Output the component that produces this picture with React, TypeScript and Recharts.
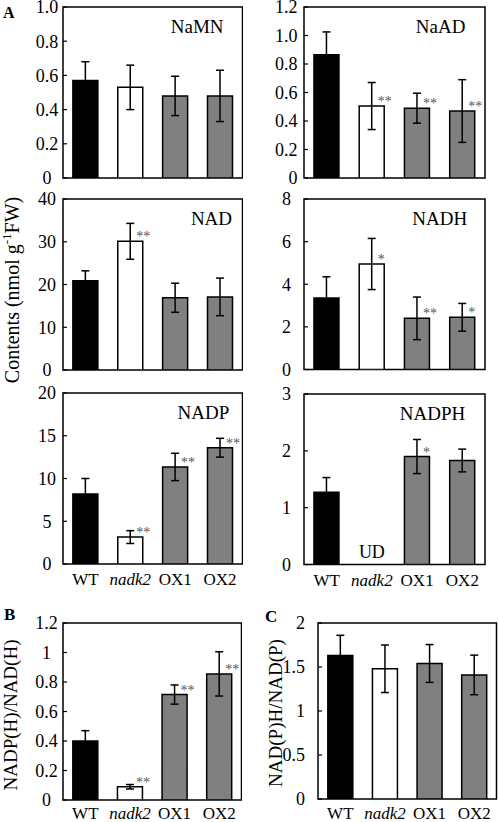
import React from 'react';
import { BarChart, Bar, XAxis, YAxis, ErrorBar, Cell, LabelList, ReferenceArea, ReferenceDot } from 'recharts';

const FONT = '"Liberation Serif", "Times New Roman", Times, serif';

const categories = ['WT', 'nadk2', 'OX1', 'OX2'];
const barColors = ['#000000', '#ffffff', '#808080', '#808080'];

const namnValues = [0.57, 0.53, 0.48, 0.48];
const namnErrors = [0.11, 0.13, 0.115, 0.15];
const namnSig = ['', '', '', ''];
const namnTicks = [0, 0.2, 0.4, 0.6, 0.8, 1.0];
const namnTickLabels = ['0', '0.2', '0.4', '0.6', '0.8', '1.0'];

const naadValues = [0.865, 0.505, 0.49, 0.47];
const naadErrors = [0.16, 0.165, 0.105, 0.22];
const naadSig = ['', '**', '**', '**'];
const naadTicks = [0, 0.2, 0.4, 0.6, 0.8, 1.0, 1.2];
const naadTickLabels = ['0', '0.2', '0.4', '0.6', '0.8', '1.0', '1.2'];

const nadValues = [20.9, 30.1, 16.9, 17.1];
const nadErrors = [2.3, 4.2, 3.4, 4.4];
const nadSig = ['', '**', '', ''];
const nadTicks = [0, 10, 20, 30, 40];
const nadTickLabels = ['0', '10', '20', '30', '40'];

const nadhValues = [3.35, 4.95, 2.4, 2.45];
const nadhErrors = [1.0, 1.2, 1.0, 0.65];
const nadhSig = ['', '*', '**', '*'];
const nadhTicks = [0, 2, 4, 6, 8];
const nadhTickLabels = ['0', '2', '4', '6', '8'];

const nadpValues = [8.2, 3.15, 11.35, 13.6];
const nadpErrors = [1.8, 0.75, 1.6, 1.1];
const nadpSig = ['', '**', '**', '**'];
const nadpTicks = [0, 5, 10, 15, 20];
const nadpTickLabels = ['0', '5', '10', '15', '20'];

const nadphValues = [1.27, 0, 1.9, 1.83];
const nadphErrors = [0.26, 0, 0.3, 0.2];
const nadphSig = ['', '', '*', ''];
const nadphNotes = ['', 'UD', '', ''];
const nadphTicks = [0, 1, 2, 3];
const nadphTickLabels = ['0', '1', '2', '3'];

const ratioBValues = [0.40, 0.09, 0.715, 0.855];
const ratioBErrors = [0.07, 0.015, 0.065, 0.15];
const ratioBSig = ['', '**', '**', '**'];
const ratioBTicks = [0, 0.2, 0.4, 0.6, 0.8, 1, 1.2];
const ratioBTickLabels = ['0', '0.2', '0.4', '0.6', '0.8', '1', '1.2'];

const ratioCValues = [1.63, 1.48, 1.54, 1.41];
const ratioCErrors = [0.23, 0.27, 0.215, 0.225];
const ratioCSig = ['', '', '', ''];
const ratioCTicks = [0, 0.5, 1, 1.5, 2];
const ratioCTickLabels = ['0', '0.5', '1', '1.5', '2'];

const emptyNotes = ['', '', '', ''];

type PanelCfg = {
  title: string;
  values: number[];
  errors: number[];
  sig: string[];
  notes: string[];
  ticks: number[];
  tickLabels: string[];
  rect: [number, number, number, number];
  showX: boolean;
  xBaseline: number;
  tickAnchor: 'middle' | 'end';
  tickMargin: number;
  titleFrac: number;
};

const panels: PanelCfg[] = [
  { title: 'NaMN', values: namnValues, errors: namnErrors, sig: namnSig, notes: emptyNotes, ticks: namnTicks, tickLabels: namnTickLabels, rect: [62.5, 7, 242, 178], showX: false, xBaseline: 21, tickAnchor: 'middle', tickMargin: 20, titleFrac: 0.75 },
  { title: 'NaAD', values: naadValues, errors: naadErrors, sig: naadSig, notes: emptyNotes, ticks: naadTicks, tickLabels: naadTickLabels, rect: [304, 7, 485, 178], showX: false, xBaseline: 21, tickAnchor: 'end', tickMargin: 10.5, titleFrac: 0.755 },
  { title: 'NAD', values: nadValues, errors: nadErrors, sig: nadSig, notes: emptyNotes, ticks: nadTicks, tickLabels: nadTickLabels, rect: [62.5, 199, 242, 370], showX: false, xBaseline: 21, tickAnchor: 'middle', tickMargin: 20, titleFrac: 0.83 },
  { title: 'NADH', values: nadhValues, errors: nadhErrors, sig: nadhSig, notes: emptyNotes, ticks: nadhTicks, tickLabels: nadhTickLabels, rect: [304, 199, 485, 369.5], showX: false, xBaseline: 21, tickAnchor: 'end', tickMargin: 17, titleFrac: 0.75 },
  { title: 'NADP', values: nadpValues, errors: nadpErrors, sig: nadpSig, notes: emptyNotes, ticks: nadpTicks, tickLabels: nadpTickLabels, rect: [62.5, 393, 242, 564], showX: true, xBaseline: 21, tickAnchor: 'middle', tickMargin: 20, titleFrac: 0.785 },
  { title: 'NADPH', values: nadphValues, errors: nadphErrors, sig: nadphSig, notes: nadphNotes, ticks: nadphTicks, tickLabels: nadphTickLabels, rect: [304, 393.5, 485, 564], showX: true, xBaseline: 21, tickAnchor: 'end', tickMargin: 17, titleFrac: 0.71 },
  { title: '', values: ratioBValues, errors: ratioBErrors, sig: ratioBSig, notes: emptyNotes, ticks: ratioBTicks, tickLabels: ratioBTickLabels, rect: [62.5, 623, 241, 800], showX: true, xBaseline: 19, tickAnchor: 'middle', tickMargin: 20.5, titleFrac: 0.75 },
  { title: '', values: ratioCValues, errors: ratioCErrors, sig: ratioCSig, notes: emptyNotes, ticks: ratioCTicks, tickLabels: ratioCTickLabels, rect: [318, 623, 496.5, 799], showX: true, xBaseline: 20, tickAnchor: 'end', tickMargin: 17, titleFrac: 0.75 },
];

const YTick = (props: any) => {
  const { x, y, payload, ticks, labels, anchor } = props;
  const i = ticks.indexOf(payload.value);
  return (
    <text x={x} y={y} dy="0.35em" textAnchor={anchor} fontFamily={FONT} fontSize={18} fill="#000">
      {i >= 0 ? labels[i] : String(payload.value)}
    </text>
  );
};

const XTick = (props: any) => {
  const { x, y, payload, baseline } = props;
  const italic = payload.value === 'nadk2';
  return (
    <text x={x} y={y + baseline} textAnchor="middle" fontFamily={FONT} fontSize={17} fontStyle={italic ? 'italic' : 'normal'} fill="#000">
      {payload.value}
    </text>
  );
};

const getBox = (props: any) => {
  const vb = props.viewBox || {};
  return {
    x: props.x ?? vb.x,
    y: props.y ?? vb.y,
    width: props.width ?? vb.width,
    height: props.height ?? vb.height,
  };
};

const StarLabel = (props: any) => {
  const { value } = props;
  if (!value) return null;
  const { x, y, width } = getBox(props);
  return (
    <text x={x + width / 2 + 6} y={y} fontFamily={FONT} fontSize={14} fill="#555">
      {value}
    </text>
  );
};

const NoteLabel = (props: any) => {
  const { viewBox, value } = props;
  if (!value || !viewBox) return null;
  const cx = viewBox.x + (viewBox.width || 0) / 2;
  const cy = viewBox.y + (viewBox.height || 0) / 2;
  return (
    <text x={cx} y={cy - 7} textAnchor="middle" fontFamily={FONT} fontSize={18} fill="#000">
      {value}
    </text>
  );
};

const YW = 60;
const MT = 14;
const MR = 1;
const XH = 30;

function Panel({ cfg }: { cfg: PanelCfg }) {
  const [l, t, r, b] = cfg.rect;
  const width = r - l + YW + MR;
  const height = b - t + MT + XH;
  const data = categories.map((c, i) => ({
    name: c,
    value: cfg.values[i],
    err: cfg.errors[i],
    sig: cfg.sig[i],
  }));
  const max = cfg.ticks[cfg.ticks.length - 1];
  return (
    <div style={{ position: 'absolute', left: l - YW, top: t - MT, width, height }}>
      <BarChart width={width} height={height} data={data} margin={{ top: MT, right: MR, left: 0, bottom: 0 }} barCategoryGap="22%">
        <XAxis
          dataKey="name"
          height={XH}
          tickLine={false}
          axisLine={false}
          tickSize={0}
          tickMargin={0}
          interval={0}
          tick={cfg.showX ? <XTick baseline={cfg.xBaseline} /> : false}
        />
        <YAxis
          width={YW}
          domain={[0, max]}
          ticks={cfg.ticks}
          interval={0}
          allowDataOverflow
          axisLine={false}
          tickSize={-4}
          tickMargin={cfg.tickMargin}
          tickLine={{ stroke: '#000', strokeWidth: 1.2 }}
          tick={<YTick ticks={cfg.ticks} labels={cfg.tickLabels} anchor={cfg.tickAnchor} />}
        />
        <Bar dataKey="value" isAnimationActive={false} stroke="#000" strokeWidth={1.5}>
          {data.map((d, i) => (
            <Cell key={d.name} fill={barColors[i]} />
          ))}
          <ErrorBar dataKey="err" width={4} stroke="#000" strokeWidth={1.5} direction="y" />
          <LabelList dataKey="sig" content={StarLabel} />
        </Bar>
        <ReferenceArea y1={0} y2={max} fill="none" fillOpacity={0} stroke="#000" strokeWidth={1.5} ifOverflow="visible" />
        {cfg.notes.map((n, i) =>
          n ? (
            <ReferenceDot
              key={`note-${i}`}
              x={categories[i]}
              y={0}
              r={1}
              fill="none"
              stroke="none"
              ifOverflow="visible"
              label={<NoteLabel value={n} />}
            />
          ) : null
        )}
      </BarChart>
    </div>
  );
}

export default function App() {
  return (
    <div style={{ position: 'absolute', left: 0, top: 0, width: 498, height: 822, overflow: 'hidden', background: '#fff' }}>
      {panels.map((p, i) => (
        <Panel key={i} cfg={p} />
      ))}
      <svg width={498} height={822} style={{ position: 'absolute', left: 0, top: 0, pointerEvents: 'none' }}>
        {panels.map((p, i) =>
          p.title ? (
            <text
              key={i}
              x={p.rect[0] + p.titleFrac * (p.rect[2] - p.rect[0])}
              y={p.rect[1] + 26}
              textAnchor="middle"
              fontFamily={FONT}
              fontSize={19}
              fill="#000"
            >
              {p.title}
            </text>
          ) : null
        )}
        <text x={3} y={18} fontFamily={FONT} fontSize={16} fontWeight="bold" fill="#000">A</text>
        <text x={4} y={620} fontFamily={FONT} fontSize={17} fontWeight="bold" fill="#000">B</text>
        <text x={265} y={622} fontFamily={FONT} fontSize={17} fontWeight="bold" fill="#000">C</text>
        <text transform="translate(19,290) rotate(-90)" textAnchor="middle" fontFamily={FONT} fontSize={20} fill="#000">
          <tspan>Contents (nmol g</tspan>
          <tspan fontSize={13} dy={-8}>-1</tspan>
          <tspan dy={8}>FW)</tspan>
        </text>
        <text transform="translate(17,715) rotate(-90)" textAnchor="middle" fontFamily={FONT} fontSize={19} fill="#000">
          NADP(H)/NAD(H)
        </text>
        <text transform="translate(282,713) rotate(-90)" textAnchor="middle" fontFamily={FONT} fontSize={19} fill="#000">
          NAD(P)H/NAD(P)
        </text>
      </svg>
    </div>
  );
}
